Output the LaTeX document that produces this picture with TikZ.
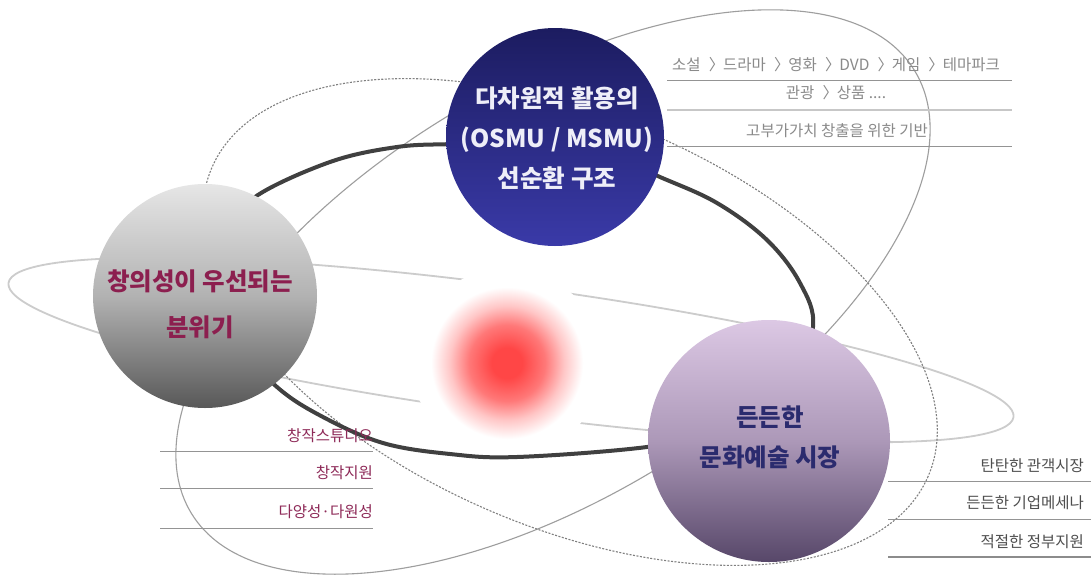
\documentclass[tikz,border=0pt]{standalone}
\usepackage{fontspec}
\setmainfont{Noto Sans CJK KR}
\definecolor{topA}{HTML}{1C1C60}
\definecolor{topB}{HTML}{3A3AA8}
\definecolor{leftA}{HTML}{E6E6E6}
\definecolor{leftM}{HTML}{B2B2B2}
\definecolor{leftB}{HTML}{585858}
\definecolor{rightA}{HTML}{DCC8E4}
\definecolor{rightM}{HTML}{AC98B8}
\definecolor{rightB}{HTML}{574769}
\definecolor{txtTop}{HTML}{EEEEF8}
\definecolor{txtLeft}{HTML}{8C1F4F}
\definecolor{txtRight}{HTML}{2B2B6E}
\definecolor{listGrey}{HTML}{8A8A8A}
\definecolor{listDark}{HTML}{4E4E4E}
\definecolor{listRed}{HTML}{8E2A58}
\definecolor{glowcore}{RGB}{255,70,70}
\definecolor{glowmid}{RGB}{255,120,120}
\definecolor{glowpale}{RGB}{255,198,198}
\pgfdeclareradialshading{glow}{\pgfpoint{0bp}{0bp}}{color(0bp)=(glowcore); color(4bp)=(glowcore); color(10bp)=(glowmid); color(15bp)=(glowpale); color(20bp)=(white); color(50bp)=(white)}
\newcommand\rarr{\kern.3em〉\kern-.3em}
\tikzset{
  orbitA/.style={draw=black!38, line width=1.1pt},
  orbitB/.style={draw=black!50, line width=1.1pt, dash pattern=on 2pt off 1.5pt},
  orbitC/.style={draw=black!20, line width=1.8pt},
  mainorbit/.style={draw=black!75, line width=4pt},
  ball/.style={circle, inner sep=0pt, draw=none},
  bigtxt/.style={font=\fontsize{24.5}{40}\selectfont\bfseries, align=center, inner sep=0pt},
  smalltxt/.style={font=\fontsize{15.5}{18}\selectfont, inner sep=0pt},
  sepline/.style={draw=black!42, line width=1pt},
  seplight/.style={draw=black!22, line width=2.2pt},
}
\begin{document}
\begin{tikzpicture}[x=1pt,y=-1pt]
\useasboundingbox (0,0) rectangle (1091,576);
\fill[white] (0,0) rectangle (1091,576);

% thin orbits
\draw[orbitC, rotate around={-7.6:(511,350)}] (511,350) ellipse [x radius=507, y radius=64];
\draw[orbitA, rotate around={31.5:(553,292)}] (553,292) ellipse [x radius=424, y radius=205];
\draw[orbitB, rotate around={-23.3:(570,322)}] (570,322) ellipse [x radius=390, y radius=205];

% red glow
\shade[shading=glow] (507,363) circle [radius=95];

% main thick orbit
\draw[mainorbit] plot[smooth cycle, tension=0.6] coordinates {
  (255,197) (330,162) (397,147) (453,144) (520,142) (600,152) (660,177) (717,203)
  (767,240) (800,283) (813,327) (790,390) (730,430) (647,447) (517,457) (450,454)
  (383,443) (323,417) (277,387) (235,340) (225,280) (235,230)};

% separators
\draw[sepline] (667,80) -- (1012,80);
\draw[seplight] (667,110) -- (1012,110);
\draw[sepline] (667,146) -- (1012,146);
\draw[sepline] (160,451) -- (373,451);
\draw[sepline] (160,488) -- (373,488);
\draw[sepline] (160,528) -- (373,528);
\draw[sepline] (888,481) -- (1091,481);
\draw[sepline] (888,519) -- (1091,519);
\draw[draw=black!45, line width=2pt] (888,557) -- (1091,557);

% spheres
\node[ball, minimum size=218pt, top color=topA, bottom color=topB] (top) at (555,137) {};
\node[ball, minimum size=224pt, top color=leftA, bottom color=leftB, middle color=leftM] (left) at (205,296) {};
\node[ball, minimum size=242pt, top color=rightA, bottom color=rightB, middle color=rightM] (right) at (769,441) {};

\node[bigtxt, text=txtTop] (toptext) at (557,138) {다차원적 활용의\\(OSMU / MSMU)\\선순환 구조};
\node[bigtxt, text=txtLeft, font=\fontsize{24.5}{46}\selectfont\bfseries] (lefttext) at (200,304) {창의성이 우선되는\\분위기};
\node[bigtxt, text=txtRight] (righttext) at (770,437) {든든한\\문화예술 시장};

% lists
\node[smalltxt, text=listGrey] (l1) at (836,65) {소설 \rarr{} 드라마 \rarr{} 영화 \rarr{} DVD \rarr{} 게임 \rarr{} 테마파크};
\node[smalltxt, text=listGrey] (l2) at (836,93) {관광 \rarr{} 상품 ....};
\node[smalltxt, text=listGrey] (l3) at (837,131) {고부가가치 창출을 위한 기반};

\node[smalltxt, text=listRed, anchor=east] (c1) at (373,436) {창작스튜디오};
\node[smalltxt, text=listRed, anchor=east] (c2) at (373,473) {창작지원};
\node[smalltxt, text=listRed, anchor=east] (c3) at (373,512) {다양성·다원성};

\node[smalltxt, text=listDark, anchor=east] (r1) at (1084,466) {탄탄한 관객시장};
\node[smalltxt, text=listDark, anchor=east] (r2) at (1084,503) {든든한 기업메세나};
\node[smalltxt, text=listDark, anchor=east] (r3) at (1084,542) {적절한 정부지원};
\end{tikzpicture}
\end{document}
